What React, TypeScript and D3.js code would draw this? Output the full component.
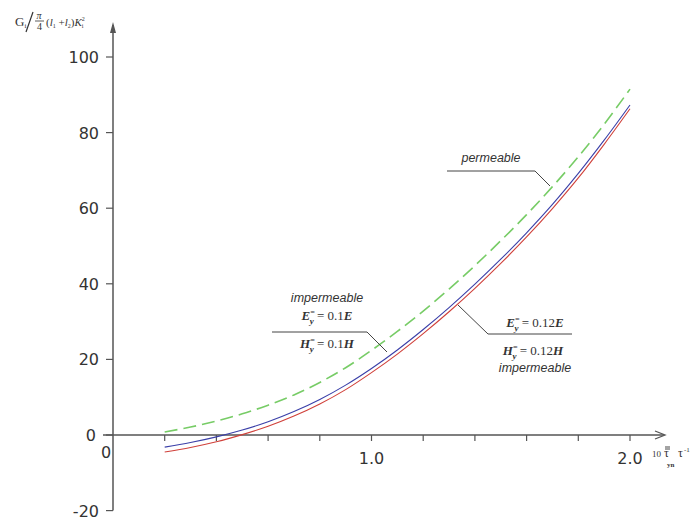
import React from "react";
import * as d3 from "d3";

const xValues = [0.2, 0.3, 0.4, 0.5, 0.6, 0.7, 0.8, 0.9, 1.0, 1.1, 1.2, 1.3, 1.4, 1.5, 1.6, 1.7, 1.8, 1.9, 2.0];
const permeable = [0.8, 2.1, 3.7, 5.6, 7.9, 10.6, 13.9, 17.8, 22.4, 27.4, 32.8, 38.6, 44.8, 51.4, 58.3, 65.7, 73.6, 82.2, 91.5];
const imperm01 = [-3.2, -2.0, -0.5, 1.3, 3.5, 6.2, 9.4, 13.2, 17.6, 22.5, 27.9, 33.7, 39.9, 46.5, 53.5, 61.0, 69.2, 78.0, 87.3];
const imperm012 = [-4.5, -3.3, -1.8, 0.1, 2.3, 5.0, 8.2, 12.0, 16.5, 21.4, 26.8, 32.6, 38.8, 45.4, 52.4, 59.9, 68.0, 76.9, 86.3];
const yTicks = [-20, 0, 20, 40, 60, 80, 100];
const xTicks = [0.2, 0.4, 0.6, 0.8, 1.0, 1.2, 1.4, 1.6, 1.8, 2.0];
const xTickLabels = [
  { v: 1.0, t: "1.0" },
  { v: 2.0, t: "2.0" },
];

const x = d3.scaleLinear().domain([0, 2]).range([113, 630]);
const y = d3.scaleLinear().domain([-20, 100]).range([510.6, 57]);

const line = d3
  .line<number>()
  .x((_, i) => x(xValues[i]))
  .y((d) => y(d))
  .curve(d3.curveCatmullRom);

const axisColor = "#555";
const textColor = "#333";

function EqLabel({ cx, cy, sym, val }: { cx: number; cy: number; sym: string; val: string }) {
  return (
    <text
      x={cx}
      y={cy}
      textAnchor="middle"
      fontFamily="Liberation Serif, serif"
      fontStyle="italic"
      fontWeight="bold"
      fontSize={13}
      fill={textColor}
    >
      {sym}
      <tspan dy={-5} fontSize={8}>=</tspan>
      <tspan dx={-5} dy={9} fontSize={9}>y</tspan>
      <tspan dy={-4} fontStyle="normal" fontWeight="normal"> = {val}</tspan>
      <tspan>{sym}</tspan>
    </text>
  );
}

export default function App() {
  const x0 = x(0);
  const y0 = y(0);
  return (
    <svg
      width={695}
      height={522}
      style={{ position: "absolute", left: 0, top: 0, background: "#fff" }}
    >
      {/* Y axis */}
      <line x1={x0} x2={x0} y1={y(-20)} y2={25} stroke={axisColor} strokeWidth={1.5} />
      <path d={`M${x0 - 3},${33} L${x0},${22} L${x0 + 3},${33} Z`} fill={axisColor} />
      {yTicks.map((t) => (
        <g key={t}>
          <line x1={x0 - 7} x2={x0} y1={y(t)} y2={y(t)} stroke={axisColor} strokeWidth={1.2} />
          <text
            x={t === 0 ? 96 : 99}
            y={y(t) + 6}
            textAnchor="end"
            fontFamily="DejaVu Sans, sans-serif"
            fontSize={16}
            fill={textColor}
          >
            {t}
          </text>
        </g>
      ))}
      {/* X axis */}
      <line x1={103} x2={664} y1={y0} y2={y0} stroke={axisColor} strokeWidth={1.5} />
      <path d={`M${655},${y0 - 4} L${665},${y0} L${655},${y0 + 4}`} fill="none" stroke={axisColor} strokeWidth={1.3} />
      {xTicks.map((t) => (
        <line key={t} x1={x(t)} x2={x(t)} y1={y0} y2={y0 + 6} stroke={axisColor} strokeWidth={1.2} />
      ))}
      {xTickLabels.map((d) => (
        <text
          key={d.t}
          x={x(d.v)}
          y={464}
          textAnchor="middle"
          fontFamily="DejaVu Sans, sans-serif"
          fontSize={16}
          fill={textColor}
        >
          {d.t}
        </text>
      ))}
      <text x={106} y={458} textAnchor="middle" fontFamily="DejaVu Sans, sans-serif" fontSize={16} fill={textColor}>
        0
      </text>
      {/* X axis title */}
      <text fontFamily="Liberation Serif, serif" fill={textColor} fontSize={9}>
        <tspan x={652} y={457}>10</tspan>
        <tspan x={664} y={457} fontSize={12}>τ</tspan>
        <tspan x={667} y={467} fontSize={7} fontWeight="bold">yn</tspan>
        <tspan x={678} y={457} fontSize={12}>τ</tspan>
        <tspan x={684} y={452} fontSize={7}>-1</tspan>
      </text>
      <line x1={665} x2={670} y1={447} y2={447} stroke={textColor} strokeWidth={0.9} />
      <line x1={665} x2={670} y1={449} y2={449} stroke={textColor} strokeWidth={0.9} />
      {/* Y axis title */}
      <g fontFamily="Liberation Serif, serif" fill={textColor}>
        <text x={15} y={26} fontSize={13}>
          G<tspan dy={2} fontSize={7}>i</tspan>
        </text>
        <line x1={26} x2={33} y1={32} y2={12} stroke={textColor} strokeWidth={1.2} />
        <text x={39} y={19} fontSize={10} fontStyle="italic" textAnchor="middle">π</text>
        <line x1={35} x2={44} y1={21} y2={21} stroke={textColor} strokeWidth={0.8} />
        <text x={39.5} y={30} fontSize={10} textAnchor="middle">4</text>
        <text x={46} y={26} fontSize={11}>
          (<tspan fontStyle="italic">l</tspan>
          <tspan dy={2} fontSize={6}>1</tspan>
          <tspan dy={-2}> +</tspan>
          <tspan fontStyle="italic">l</tspan>
          <tspan dy={2} fontSize={6}>2</tspan>
          <tspan dy={-2}>)</tspan>
          <tspan fontStyle="italic">K</tspan>
          <tspan dy={-5} fontSize={6}>2</tspan>
          <tspan dy={7} dx={-3} fontSize={6}>i</tspan>
        </text>
      </g>
      {/* Curves */}
      <path d={line(permeable) ?? ""} fill="none" stroke="#77cc66" strokeWidth={1.6} strokeDasharray="13,6" />
      <path d={line(imperm01) ?? ""} fill="none" stroke="#3a3fa8" strokeWidth={1.1} />
      <path d={line(imperm012) ?? ""} fill="none" stroke="#d0403a" strokeWidth={1.1} />
      {/* Annotation: permeable */}
      <text x={491} y={162} textAnchor="middle" fontFamily="Liberation Sans, Arial, sans-serif" fontStyle="italic" fontSize={12.5} fill={textColor}>
        permeable
      </text>
      <polyline points="447,171 535,171 550,186" fill="none" stroke="#444" strokeWidth={1} />
      {/* Annotation: left impermeable */}
      <text x={327} y={302} textAnchor="middle" fontFamily="Liberation Sans, Arial, sans-serif" fontStyle="italic" fontSize={12.5} fill={textColor}>
        impermeable
      </text>
      <EqLabel cx={327} cy={320} sym="E" val="0.1" />
      <polyline points="272,332 367,332 387,352" fill="none" stroke="#444" strokeWidth={1} />
      <EqLabel cx={327} cy={348} sym="H" val="0.1" />
      {/* Annotation: right impermeable */}
      <polyline points="458,305 488,334 572,334" fill="none" stroke="#444" strokeWidth={1} />
      <EqLabel cx={535} cy={327} sym="E" val="0.12" />
      <EqLabel cx={533} cy={355} sym="H" val="0.12" />
      <text x={535} y={372} textAnchor="middle" fontFamily="Liberation Sans, Arial, sans-serif" fontStyle="italic" fontSize={12.5} fill={textColor}>
        impermeable
      </text>
    </svg>
  );
}
